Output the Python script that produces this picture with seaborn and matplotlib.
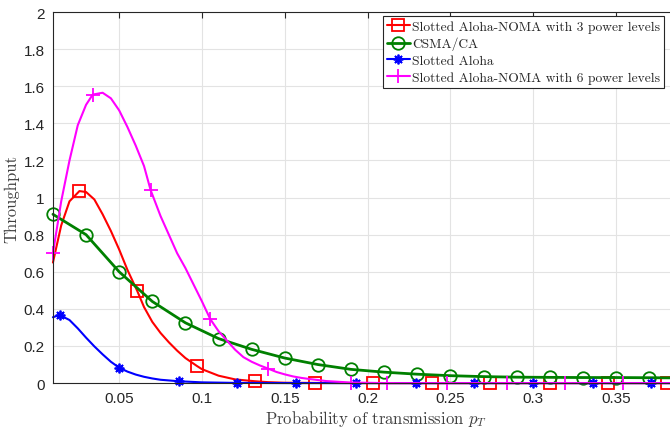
import matplotlib
matplotlib.use('Agg')
import matplotlib.pyplot as plt
import seaborn as sns
import pandas as pd

# Slotted Aloha-NOMA, 3 power levels
x_noma3 = [0.01, 0.015, 0.02, 0.026, 0.03, 0.035, 0.04, 0.045, 0.05, 0.055, 0.061, 0.065, 0.07,
           0.075, 0.08, 0.085, 0.09, 0.097, 0.1, 0.11, 0.12, 0.132, 0.14, 0.15, 0.168, 0.203,
           0.239, 0.274, 0.31, 0.345, 0.381, 0.4]
y_noma3 = [0.65, 0.85, 0.98, 1.035, 1.03, 0.99, 0.91, 0.82, 0.72, 0.61, 0.495, 0.41, 0.33,
           0.27, 0.22, 0.175, 0.135, 0.092, 0.075, 0.04, 0.02, 0.01, 0.005, 0.002, 0.001, 0.0,
           0.0, 0.0, 0.0, 0.0, 0.0, 0.0]
mk_noma3 = [3, 10, 17, 21, 24, 25, 26, 27, 28, 29, 30]

# CSMA/CA
x_csma = [0.01, 0.03, 0.05, 0.07, 0.09, 0.11, 0.13, 0.15, 0.17, 0.19, 0.21, 0.23, 0.25,
          0.27, 0.29, 0.31, 0.33, 0.35, 0.37, 0.39, 0.4]
y_csma = [0.91, 0.80, 0.60, 0.44, 0.325, 0.24, 0.182, 0.135, 0.10, 0.074, 0.059, 0.048, 0.04,
          0.035, 0.032, 0.031, 0.03, 0.03, 0.029, 0.028, 0.028]
mk_csma = list(range(20))

# Slotted Aloha
x_aloha = [0.01, 0.014, 0.02, 0.025, 0.03, 0.035, 0.04, 0.045, 0.05, 0.055, 0.06, 0.065, 0.07,
           0.075, 0.086, 0.1, 0.121, 0.157, 0.193, 0.229, 0.264, 0.3, 0.336, 0.371, 0.4]
y_aloha = [0.355, 0.367, 0.34, 0.295, 0.245, 0.198, 0.155, 0.115, 0.083, 0.062, 0.046, 0.034,
           0.025, 0.018, 0.01, 0.004, 0.001, 0.0, 0.0, 0.0, 0.0, 0.0, 0.0, 0.0, 0.0]
mk_aloha = [1, 8, 14, 16, 17, 18, 19, 20, 21, 22, 23]

# Slotted Aloha-NOMA, 6 power levels
x_noma6 = [0.01, 0.015, 0.02, 0.025, 0.03, 0.034, 0.04, 0.045, 0.05, 0.055, 0.06, 0.065, 0.069,
           0.075, 0.08, 0.085, 0.09, 0.095, 0.1, 0.105, 0.11, 0.115, 0.12, 0.125, 0.13, 0.135,
           0.14, 0.145, 0.15, 0.155, 0.16, 0.165, 0.175, 0.19, 0.212, 0.248, 0.284, 0.319,
           0.354, 0.39, 0.4]
y_noma6 = [0.70, 0.98, 1.20, 1.39, 1.50, 1.555, 1.565, 1.535, 1.47, 1.38, 1.28, 1.17, 1.04,
           0.90, 0.80, 0.70, 0.62, 0.53, 0.44, 0.345, 0.28, 0.23, 0.18, 0.14, 0.115, 0.095,
           0.078, 0.06, 0.047, 0.036, 0.028, 0.022, 0.011, 0.003, 0.0, 0.0, 0.0, 0.0,
           0.0, 0.0, 0.0]
mk_noma6 = [0, 5, 12, 19, 26, 33, 34, 35, 36, 37, 38, 39]

x_ticks = [0.05, 0.1, 0.15, 0.2, 0.25, 0.3, 0.35]
x_ticklabels = ['0.05', '0.1', '0.15', '0.2', '0.25', '0.3', '0.35']
y_ticks = [0, 0.2, 0.4, 0.6, 0.8, 1.0, 1.2, 1.4, 1.6, 1.8, 2.0]
y_ticklabels = ['0', '0.2', '0.4', '0.6', '0.8', '1', '1.2', '1.4', '1.6', '1.8', '2']

sns.set_style('white')
plt.rcParams['font.family'] = ['Liberation Sans', 'DejaVu Sans']
plt.rcParams['mathtext.fontset'] = 'cm'

fig = plt.figure(figsize=(6.7, 4.35), dpi=100)
# the original figure is cropped on the right, so the axes run past the edge
ax = fig.add_axes([0.079, 0.117, 0.964, 0.853])

series = [
    (x_noma3, y_noma3, mk_noma3, 'Slotted Aloha-NOMA with 3 power levels', '#ff0000', 's', 8, 1.5),
    (x_csma, y_csma, mk_csma, 'CSMA/CA', '#008000', 'o', 9, 2.0),
    (x_aloha, y_aloha, mk_aloha, 'Slotted Aloha', '#0000ff', (8, 2, 0), 7, 1.5),
    (x_noma6, y_noma6, mk_noma6, 'Slotted Aloha-NOMA with 6 power levels', '#ff00ff', '+', 10, 1.5),
]
for xs, ys, mk, lab, col, m, ms, lw in series:
    df = pd.DataFrame({'p': xs, 'thr': ys})
    sns.lineplot(data=df, x='p', y='thr', ax=ax, color=col, marker=m, markevery=mk,
                 markersize=ms, markerfacecolor='none', markeredgecolor=col,
                 markeredgewidth=1.3, linewidth=lw, label=lab, clip_on=False)

ax.set_xlim(0.01, 0.4)
ax.set_ylim(0, 2)
ax.set_xticks(x_ticks)
ax.set_xticklabels(x_ticklabels)
ax.set_yticks(y_ticks)
ax.set_yticklabels(y_ticklabels)
ax.grid(True, color='#e3e3e3', linewidth=0.8)
ax.set_axisbelow(True)
ax.tick_params(direction='in', top=True, right=True, length=4, width=0.8,
               labelsize=11, colors='#262626', pad=6)
for s in ax.spines.values():
    s.set_color('#262626')
    s.set_linewidth(0.8)

ax.set_xlabel('Probability of transmission $p_T$', fontfamily='cmr10', fontsize=12,
              color='#404040', labelpad=2)
ax.set_ylabel('Throughput', fontfamily='cmr10', fontsize=12, color='#404040', labelpad=3)

leg = ax.legend(loc='upper left', bbox_to_anchor=(383 / 670, 1 - 17 / 435),
                bbox_transform=fig.transFigure,
                prop={'family': 'cmr10', 'size': 9.7}, fancybox=False,
                framealpha=1, edgecolor='#262626', handlelength=1.7, handletextpad=0.15,
                labelspacing=0.32, borderpad=0.3, borderaxespad=0.0)
leg.get_frame().set_linewidth(0.8)

fig.savefig('out.png', dpi=100)
